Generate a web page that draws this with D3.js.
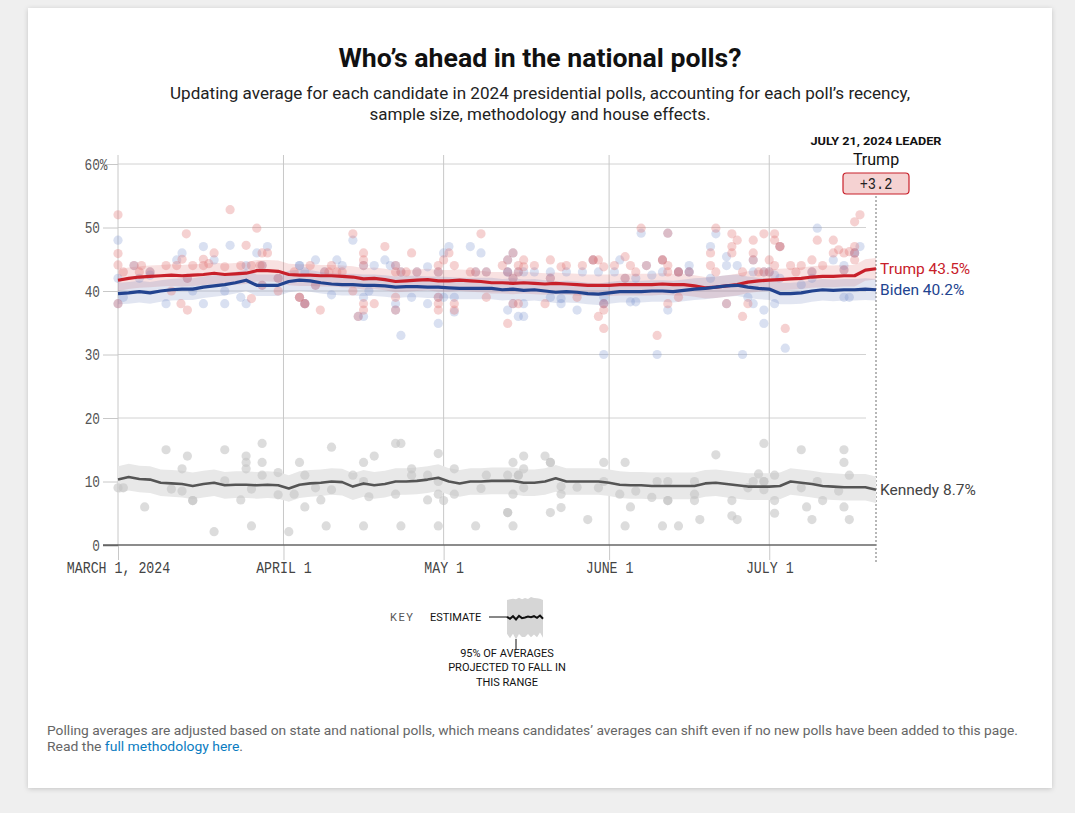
<!DOCTYPE html>
<html><head><meta charset="utf-8">
<script src="https://cdn.jsdelivr.net/npm/d3@7"></script>
<style>body{margin:0;background:#efefef;} svg{display:block}</style>
</head><body><svg id="c" width="1075" height="813"></svg>
<script>
// ---------------- DATA ----------------
const startDate = new Date(2024, 2, 1);
const endDate = new Date(2024, 6, 21);
const yTicks = [0, 10, 20, 30, 40, 50, 60];
const xTickDates = [new Date(2024,2,1), new Date(2024,3,1), new Date(2024,4,1), new Date(2024,5,1), new Date(2024,6,1)];
const xTickLabels = ["MARCH 1, 2024", "APRIL 1", "MAY 1", "JUNE 1", "JULY 1"];

// average days (offset from March 1), every 2 days
const avgDays = [0,2,4,6,8,10,12,14,16,18,20,22,24,26,28,30,32,34,36,38,40,42,44,46,48,50,52,54,56,58,60,62,64,66,68,70,72,74,76,78,80,82,84,86,88,90,92,94,96,98,100,102,104,106,108,110,112,114,116,118,120,122,124,126,128,130,132,134,136,138,140,142];
const trumpAvg = [41.7,42.0,42.2,42.3,42.4,42.5,42.4,42.5,42.6,42.8,42.6,42.7,42.8,43.2,43.2,43.1,42.6,42.5,42.5,42.4,42.4,42.3,42.2,41.9,42.0,41.8,41.5,41.6,41.7,41.8,41.6,41.6,41.7,41.6,41.5,41.3,41.3,41.2,41.3,41.2,41.1,41.2,41.1,41.0,40.9,40.9,40.9,41.0,41.0,41.0,41.0,41.1,41.0,41.0,40.8,40.5,40.6,40.8,41.0,41.4,41.6,41.7,41.8,41.9,42.0,42.2,42.3,42.3,42.4,42.4,43.3,43.5];
const bidenAvg = [39.6,39.7,39.9,39.7,40.0,40.2,40.3,40.3,40.6,40.8,41.0,41.3,41.7,40.9,40.9,40.9,41.5,41.7,41.6,41.3,41.1,41.0,41.0,40.9,40.9,40.8,40.6,40.7,40.7,40.6,40.6,40.5,40.4,40.4,40.4,40.4,40.2,40.3,40.1,40.2,40.0,39.8,39.9,39.8,39.6,39.5,39.7,39.9,39.9,39.9,40.0,40.0,39.9,40.1,40.3,40.4,40.6,40.8,40.9,40.6,40.4,40.3,39.6,39.6,39.7,40.0,40.2,40.1,40.2,40.2,40.3,40.2];
const kennedyAvg = [10.3,10.7,10.4,10.3,9.8,9.7,9.6,9.3,9.6,9.8,9.4,9.5,9.5,9.4,9.5,9.4,8.9,9.5,9.7,9.8,10.0,9.9,9.2,9.7,9.4,9.6,10.0,10.0,10.1,10.3,10.6,10.0,9.7,10.0,10.0,10.1,10.1,10.1,9.8,9.8,10.0,10.5,10.0,10.0,10.0,10.0,9.8,9.5,9.4,9.4,9.3,9.3,9.3,9.3,9.3,9.7,9.8,9.6,9.4,9.2,9.2,9.2,9.3,10.0,9.8,9.6,9.3,9.2,9.1,9.1,9.1,8.7];
const bandMargin = { trump: 1.7, biden: 1.7, kennedy: 2.1 };

// poll dots: [day offset, value]
const trumpPolls = [[0,52],[0,45.9],[0,44.1],[1,43],[3,44],[4,43],[4.4,44],[12.8,49],[21,52.8],[26,49.9],[24,47.2],[27,46],[28,46],[18,46],[16,45],[16,44],[12,45],[9,44],[11,44],[14,44],[17,44.3],[20,43.8],[23,44],[25,44],[26.6,44],[10,40],[11.8,38],[13,37],[25,38.8],[34,39],[30,40],[33,43],[13,42],
[0,38],[6,43],[27,44],[27,40.9],[30,42],[34,39],[35,38],
[44,49],[50,47],[46,46],[46,44.9],[55,46],[68,49],[62,46],[61,44.9],[60,44],[63,44],[66,43],[36,44],[40,44],[41,43],[42,43],[39.5,43],[52,43],[54,43],[37.9,37],[44,40],[46,38],[46,37],[48,38],[52,39],[60,38],[60,37],[63,38],[63,37],[69,39],
[46,44],[52,44],[53,43],[56,43],[60,43],[67,43],[69,43],[35,38],[45,36],[52,37],[60,39],[37,40.9],[38.7,43],
[73,34.9],[75,44],[76,44.9],[76,43.8],[78,44],[81,44.9],[83,43.8],[84,44],[87,44],[80,38],[75,38],[86,39],[90,36],[91,37],[91,34.1],[89,44.9],[90,44.9],[91,43.8],[93,44],[95,45.4],[96,44],[97,43],[98,49.9],[103,44],[103,43],[103,38],[105,39],[102,44.9],[72,44],[101,33],
[74,46],[73,44.9],[73,43],[74,42],[89,44.9],[99,44],[102,44.9],[105,43],[95,42],[103,49.1],[74,38],[91,38],[81,42],[75,43],
[112,49.9],[115,49],[116,48],[115,47],[115,46],[111,46],[111,44],[112,43],[121,49],[123,49],[123,48],[119,48],[124,47],[122,44.9],[123,44],[119,46],[131,48],[134,48],[134,46],[135,46.5],[136,46],[137,46.2],[138,47],[138,50.9],[139,52],[138,44.9],[130,44.9],[126,44],[128,44],[132,44],[127,43],[117,36],[118,38],[125,34.1],[117,43],[120,43],[122,43],
[124,47],[119,44.9],[121,43],[130,43],[136,43.3],[138,46],[107,43],[114,38],[105,43]];
const bidenPolls = [[0,48],[0,42],[1,39],[3,44],[11,44.9],[12,46],[13,42],[16,47],[18,44.9],[21,47.2],[24,44],[26,46],[28,47],[34,44],[20,40],[23,39],[24,38],[9,38],[20,38],[16,38],[14,40],[4,42],[6,42.5],
[0,38],[6,43],[27,44],[27,40.9],[30,42],[34,39],[35,38],
[44,48],[37,44.9],[41,44.9],[42,44],[50,44.9],[48,44],[62,47],[66,47],[68,46],[61,46],[58,43.8],[51,44],[34,44],[40,39.4],[47,40],[46,39],[55,39],[58,38],[61,39],[63,39],[60,34.9],[46,36],[63,36.7],[52,38],[35,43],[53,33],
[46,44],[52,44],[53,43],[56,43],[60,43],[67,43],[69,43],[35,38],[45,36],[52,37],[60,39],[37,40.9],[38.7,43],
[73,43],[76,43],[78,43],[81,43],[84,43],[87,43],[90,43],[93,43],[94,44.9],[98,49.1],[102,43],[97,42],[100,42.5],[73,37],[75,36],[76,36],[76,38],[81,39],[83,38.8],[83,38],[86,37],[96,38.3],[97,38.3],[103,37],[91,38],[91,39],[91,30],[101,30],
[74,46],[73,44.9],[73,43],[74,42],[89,44.9],[99,44],[102,44.9],[105,43],[95,42],[103,49.1],[74,38],[91,38],[81,42],[75,43],
[112,49],[131,49.9],[111,47],[114,45.4],[114,44],[116,44],[107,44],[107,43],[111,42],[119,43],[123,42.5],[124,42],[122,43],[128,41],[130,42],[134,44.9],[136,44],[136,39],[137,39],[139,47],[138,46],[121,37],[121,34.9],[119,38],[123,38],[118,39],[117,30],[125,31],
[124,47],[119,44.9],[121,43],[130,43],[136,43.3],[138,46],[107,43],[114,38],[105,43]];
const kennedyPolls = [[0,9],[1,9],[5,6],[9,15],[10,8.8],[12,12],[12,8.5],[13,14],[14,7],[14,7],[18,2.1],[20,15],[20,10.1],[23,7.1],[24,14],[24,13],[24,12],[25,8.8],[25,3],[27,16],[27,13],[27,11],[30,11.4],[30,7.9],[32,2.1],[33,8],[34,13],[35,11],[35,6],[37,9],[38,7.1],[39,3],[40,15.4],[40,8.7],[44,11],[46,13],[46,10],[46,3],[47,7.6],[48,14],[52,16],[53,16],[52,8],[53,3],[55,12],[55,11],[58,11],[58,7.1],[60,14.4],[60,10],[60,8],[60,3],[61,7],[63,12],[63,8],[67,3],[68,8.9],[69,11],
[73,11],[73,5.1],[73,5.1],[74,13],[74,8],[74,3],[75,11],[75,11],[76,14],[76,12],[76,9],[80,14],[81,13],[81,13],[81,5.1],[83,9.2],[83,8],[83,5.9],[86,9.1],[88,4],[90,9],[91,13],[91,10],[94,8],[95,13],[95,3],[96,6],[97,8.5],[100,7.5],[101,10],[102,3],[103,10],[103,7],[103,7],[105,3],[108,10],[108,8],[108,7],[109,4],[112,14.2],[115,7],[115,4.6],[116,4],[118,9],[119,10],[120,11.2],[121,16],[121,10],[121,10],[121,8.7],[123,11],[123,7],[123,5],[128,15],[128,9],[129,6],[130,4],[131,10],[132,7],[135,8.5],[136,15],[136,13],[136,6],[137,11],[137,4]];

const candidates = [
  { key: "kennedy", name: "Kennedy", avg: kennedyAvg, polls: kennedyPolls },
  { key: "trump", name: "Trump", avg: trumpAvg, polls: trumpPolls },
  { key: "biden", name: "Biden", avg: bidenAvg, polls: bidenPolls }
];
const leaderName = "Trump";
const leaderMargin = "+3.2";
const keyEstimate = [0.1,-0.2,0.2,-0.3,0.25,-0.1,0.0,0.15,0.05,0.2,-0.05,0.3,-0.2];
const keyBand = [2.6,3.0,2.7,3.1,2.8,2.9,3.0,2.7,3.1,2.8,3.0,2.6,2.9];

// ---------------- STYLE ----------------
const style = {
  trump: { line: "#c8202a", dot: "#e07070", dotOp: 0.32, band: "rgba(215,90,90,0.18)", label: "#c8202a" },
  biden: { line: "#22438f", dot: "#7890cc", dotOp: 0.28, band: "rgba(90,110,175,0.18)", label: "#22438f" },
  kennedy: { line: "#555", dot: "#c4c4c4", dotOp: 0.6, band: "#e8e8e8", label: "#444" }
};
const SANS = "Roboto, 'Liberation Sans', Arial, sans-serif";
const MONO = "'Liberation Mono', 'DejaVu Sans Mono', monospace";

const svg = d3.select("#c");
const defs = svg.append("defs");
const f = defs.append("filter").attr("id","sh").attr("x","-5%").attr("y","-5%").attr("width","110%").attr("height","110%");
f.append("feDropShadow").attr("dx",0).attr("dy",1).attr("stdDeviation",2.5).attr("flood-color","#000").attr("flood-opacity",0.18);
svg.append("rect").attr("x",28).attr("y",8).attr("width",1024).attr("height",780).attr("fill","#fff").attr("filter","url(#sh)");

const dayDate = d => new Date(startDate.getTime() + d * 864e5);
const x = d3.scaleTime().domain([startDate, endDate]).range([118, 876]);
const y = d3.scaleLinear().domain([0, 60]).range([545, 164]);

// title
svg.append("text").attr("x",540).attr("y",67).attr("text-anchor","middle")
  .attr("font-family",SANS).attr("font-weight",700).attr("font-size",25).attr("fill","#111")
  .attr("textLength",403).attr("lengthAdjust","spacingAndGlyphs")
  .text("Who’s ahead in the national polls?");
const sub = [["Updating average for each candidate in 2024 presidential polls, accounting for each poll’s recency,", 99, 740],
             ["sample size, methodology and house effects.", 120, 341]];
svg.selectAll(".sub").data(sub).enter().append("text")
  .attr("x",540).attr("y",d=>d[1]).attr("text-anchor","middle")
  .attr("font-family",SANS).attr("font-size",16.5).attr("fill","#222")
  .attr("textLength",d=>d[2]).attr("lengthAdjust","spacingAndGlyphs").text(d=>d[0]);

// gridlines
const grid = svg.append("g");
grid.selectAll(".hg").data(yTicks.filter(t=>t>0)).enter().append("line")
  .attr("x1",118).attr("x2",866).attr("y1",d=>y(d)).attr("y2",d=>y(d))
  .attr("stroke","#d2d2d2").attr("stroke-width",1);
grid.selectAll(".vg").data(xTickDates).enter().append("line")
  .attr("x1",d=>x(d)).attr("x2",d=>x(d)).attr("y1",155).attr("y2",545)
  .attr("stroke","#c8c8c8").attr("stroke-width",1);

// y axis
const yAxis = svg.append("g").attr("transform","translate(118,0)")
  .call(d3.axisLeft(y).tickValues(yTicks).tickSize(15).tickFormat(d=>d));
yAxis.select(".domain").remove();
yAxis.selectAll(".tick line").attr("stroke","#c8c8c8");
yAxis.selectAll(".tick text")
  .attr("font-family",MONO).attr("font-size",16).attr("fill","#555")
  .attr("transform","scale(0.8,1)").attr("x",-18/0.8).attr("dy","0.34em");
yAxis.selectAll(".tick").filter(d=>d===60).select("text")
  .attr("text-anchor","start").attr("x",-33.5/0.8).text("60%");
yAxis.selectAll(".tick").filter(d=>d===0).select("line").attr("stroke","#666").attr("stroke-width",1.5);

// x axis
const xAxis = svg.append("g").attr("transform","translate(0,545)")
  .call(d3.axisBottom(x).tickValues(xTickDates).tickSize(15).tickFormat((d,i)=>xTickLabels[i]));
xAxis.select(".domain").remove();
xAxis.selectAll(".tick line").attr("stroke","#c8c8c8");
xAxis.selectAll(".tick text")
  .attr("font-family",MONO).attr("font-size",17).attr("fill","#444")
  .attr("y",28).attr("dy",0).attr("transform","scale(0.78,1)");

// zero baseline
svg.append("line").attr("x1",103).attr("x2",876).attr("y1",y(0)).attr("y2",y(0))
  .attr("stroke","#666").attr("stroke-width",1.6);

// leader dotted line
svg.append("line").attr("x1",x(endDate)).attr("x2",x(endDate)).attr("y1",196).attr("y2",562)
  .attr("stroke","#888").attr("stroke-width",1.2).attr("stroke-dasharray","2,2");

// bands
const area = (m) => d3.area().x((d,i)=>x(dayDate(avgDays[i]))).y0(d=>y(d-m)).y1(d=>y(d+m)).curve(d3.curveLinear);
const line = d3.line().x((d,i)=>x(dayDate(avgDays[i]))).y(d=>y(d)).curve(d3.curveLinear);
candidates.forEach(c => {
  svg.append("path").datum(c.avg).attr("d", area(bandMargin[c.key])).attr("fill", style[c.key].band);
});
// dots
["kennedy","biden","trump"].forEach(k => {
  const c = candidates.find(cc=>cc.key===k);
  svg.append("g").selectAll("circle").data(c.polls).enter().append("circle")
    .attr("cx",d=>x(dayDate(d[0]))).attr("cy",d=>y(d[1])).attr("r",4.6)
    .attr("fill",style[k].dot).attr("fill-opacity",style[k].dotOp);
});
// lines
candidates.forEach(c => {
  svg.append("path").datum(c.avg).attr("d", line).attr("fill","none")
    .attr("stroke", style[c.key].line).attr("stroke-width", c.key==="kennedy"?2.6:3.2)
    .attr("stroke-linejoin","round");
});
// end labels
candidates.forEach(c => {
  const last = c.avg[c.avg.length-1];
  svg.append("text").attr("x",x(endDate)+4).attr("y",y(last)).attr("dy","0.36em")
    .attr("font-family",SANS).attr("font-size",15.5).attr("fill",style[c.key].label)
    .text(`${c.name} ${last}%`);
});

// leader annotation
const lx = x(endDate);
svg.append("text").attr("x",lx).attr("y",145).attr("text-anchor","middle")
  .attr("font-family",SANS).attr("font-weight",700).attr("font-size",11.5).attr("fill","#111")
  .attr("textLength",131).attr("lengthAdjust","spacingAndGlyphs").text("JULY 21, 2024 LEADER");
svg.append("text").attr("x",lx).attr("y",165).attr("text-anchor","middle")
  .attr("font-family",SANS).attr("font-size",16).attr("fill","#111").text(leaderName);
svg.append("rect").attr("x",lx-33).attr("y",173).attr("width",66).attr("height",21).attr("rx",3.5)
  .attr("fill","#f5d2d2").attr("stroke","#c8202a").attr("stroke-width",1.2);
svg.append("g").attr("transform",`translate(${lx},189)`).append("text")
  .attr("text-anchor","middle").attr("transform","scale(0.8,1)")
  .attr("font-family",MONO).attr("font-size",17).attr("fill","#222").text(leaderMargin);

// key
svg.append("text").attr("x",390).attr("y",621).attr("font-family",SANS).attr("font-size",11)
  .attr("letter-spacing",1.6).attr("fill","#555").text("KEY");
svg.append("text").attr("x",430).attr("y",621).attr("font-family",SANS).attr("font-size",11)
  .attr("fill","#111").text("ESTIMATE");
svg.append("line").attr("x1",489).attr("x2",507).attr("y1",617).attr("y2",617).attr("stroke","#111").attr("stroke-width",1);
const kx = d3.scaleLinear().domain([0,keyEstimate.length-1]).range([507,543]);
const ky = d3.scaleLinear().domain([-3,3]).range([637,598]);
svg.append("path").datum(keyEstimate).attr("fill","#d6d6d6")
  .attr("d", d3.area().x((d,i)=>kx(i)).y0((d,i)=>ky(d-keyBand[i])).y1((d,i)=>ky(d+keyBand[i])));
svg.append("path").datum(keyEstimate).attr("fill","none").attr("stroke","#111").attr("stroke-width",2)
  .attr("d", d3.line().x((d,i)=>kx(i)).y(d=>ky(d)));
svg.append("line").attr("x1",516).attr("x2",516).attr("y1",639).attr("y2",649).attr("stroke","#111").attr("stroke-width",1);
[["95% OF AVERAGES",657],["PROJECTED TO FALL IN",671],["THIS RANGE",686]].forEach(t=>{
  svg.append("text").attr("x",507).attr("y",t[1]).attr("text-anchor","middle")
    .attr("font-family",SANS).attr("font-size",11).attr("fill","#111").text(t[0]);
});

// footer
svg.append("text").attr("x",47).attr("y",735).attr("font-family",SANS).attr("font-size",13.5).attr("fill","#666")
  .attr("textLength",971).attr("lengthAdjust","spacingAndGlyphs")
  .text("Polling averages are adjusted based on state and national polls, which means candidates’ averages can shift even if no new polls have been added to this page.");
const f2 = svg.append("text").attr("x",47).attr("y",751).attr("font-family",SANS).attr("font-size",13.5).attr("fill","#666")
  .attr("textLength",196).attr("lengthAdjust","spacingAndGlyphs");
f2.append("tspan").text("Read the ");
f2.append("tspan").attr("fill","#0a7cc1").text("full methodology here");
f2.append("tspan").text(".");
</script></body></html>
